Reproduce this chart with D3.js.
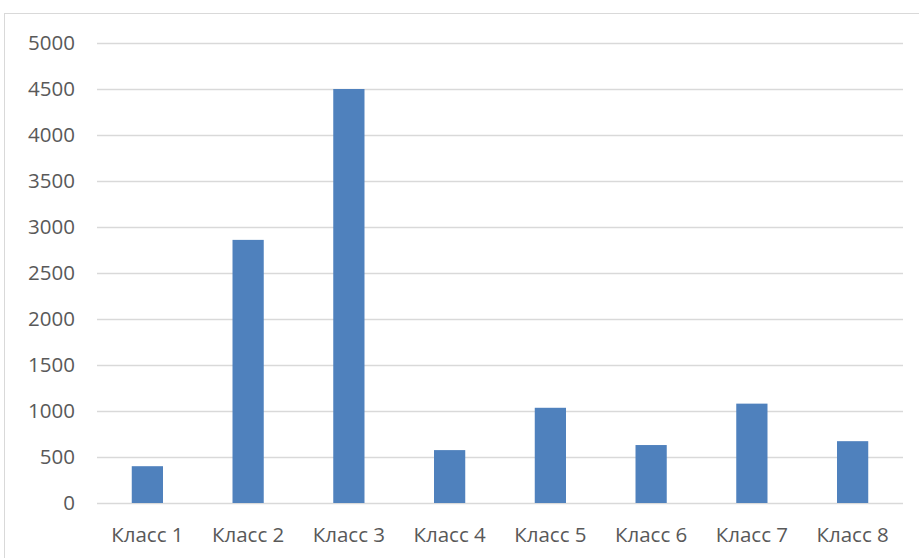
<!DOCTYPE html>
<html><head><meta charset="utf-8">
<script src="https://cdn.jsdelivr.net/npm/d3@7"></script>
<style>
html,body{margin:0;padding:0;background:#fff;}
svg{display:block;}
</style></head>
<body><svg id="c" width="919" height="558"></svg>
<script>
const categories = ["Класс 1","Класс 2","Класс 3","Класс 4","Класс 5","Класс 6","Класс 7","Класс 8"];
const values = [400, 2860, 4500, 575, 1035, 630, 1080, 672];
const yTicks = [0,500,1000,1500,2000,2500,3000,3500,4000,4500,5000];

const svg = d3.select("#c");
const W = 919, H = 558;
const m = {left: 97, right: 16, top: 43, bottom: 55};

svg.append("rect").attr("x",4.5).attr("y",13.5).attr("width",W).attr("height",H)
  .attr("fill","#fff").attr("stroke","#d9d9d9").attr("stroke-width",1);

const x = d3.scaleBand().domain(categories).range([m.left, W - m.right]).paddingInner(0.69).paddingOuter(0.345);
const y = d3.scaleLinear().domain([0,5000]).range([H - m.bottom, m.top]);

const font = "'Open Sans', sans-serif";
const fs = "20.5px";

const yAxis = svg.append("g").attr("transform",`translate(${m.left},0)`)
  .call(d3.axisLeft(y).tickValues(yTicks).tickFormat(d3.format("d")).tickSize(-(W - m.right - m.left)).tickPadding(22));
yAxis.select(".domain").remove();
yAxis.selectAll(".tick line").attr("stroke","#d9d9d9").attr("stroke-width",1.5);
yAxis.selectAll(".tick text").attr("fill","#595959").style("font-family",font).style("font-size",fs);

svg.append("g").selectAll("rect.bar").data(values).join("rect")
  .attr("class","bar")
  .attr("x",(d,i)=>x(categories[i]))
  .attr("width",x.bandwidth())
  .attr("y",d=>y(d))
  .attr("height",d=>y(0)-y(d))
  .attr("fill","#4f81bd");

const xAxis = svg.append("g").attr("transform",`translate(0,${H - m.bottom})`)
  .call(d3.axisBottom(x).tickSize(0).tickPadding(24));
xAxis.select(".domain").remove();
xAxis.selectAll(".tick text").attr("fill","#595959").style("font-family",font).style("font-size",fs);
</script></body></html>
